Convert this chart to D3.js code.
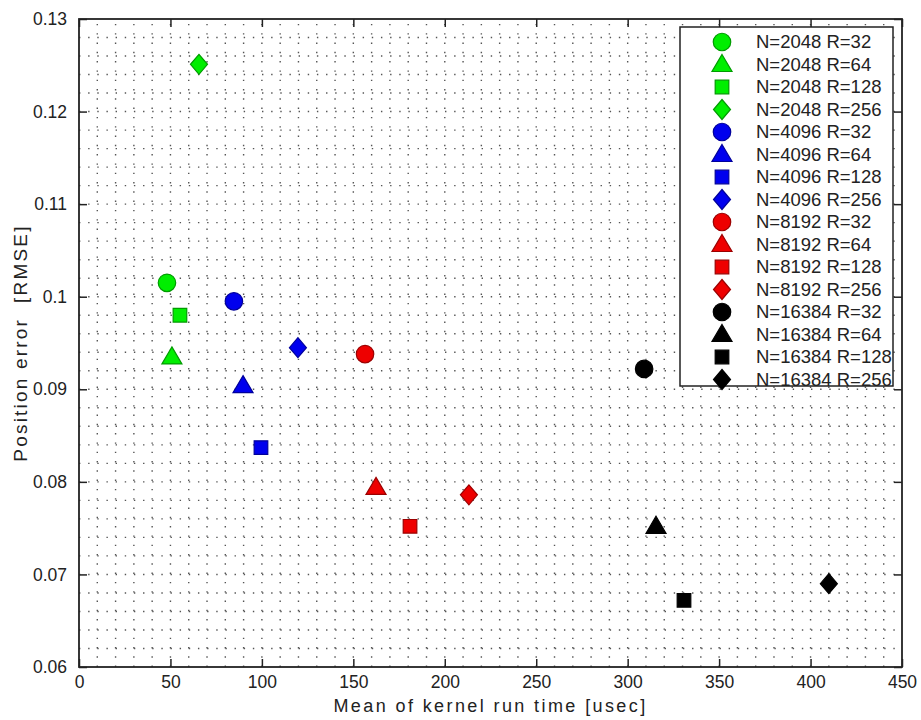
<!DOCTYPE html>
<html>
<head>
<meta charset="utf-8">
<script src="https://cdn.jsdelivr.net/npm/d3@7"></script>
<style>
  body { margin: 0; background: #fff; }
  text { font-family: "Liberation Sans", Arial, sans-serif; fill: #222; }
</style>
</head>
<body>
<div id="chart"></div>
<script>
// series
const labels = [
  'N=2048 R=32', 'N=2048 R=64', 'N=2048 R=128', 'N=2048 R=256',
  'N=4096 R=32', 'N=4096 R=64', 'N=4096 R=128', 'N=4096 R=256',
  'N=8192 R=32', 'N=8192 R=64', 'N=8192 R=128', 'N=8192 R=256',
  'N=16384 R=32', 'N=16384 R=64', 'N=16384 R=128', 'N=16384 R=256'
];
const runTime = [48.1, 50.8, 55.2, 65.6, 84.7, 89.7, 99.5, 119.7,
  156.4, 162.4, 181.0, 213.2, 309.0, 315.5, 330.8, 410.0];
const rmse = [0.1015, 0.0935, 0.0980, 0.1251, 0.0995, 0.0904, 0.0837, 0.0945,
  0.0938, 0.0794, 0.0752, 0.0786, 0.0922, 0.0752, 0.0672, 0.0690];
const colors = ['#00ee00', '#0000ee', '#ee0000', '#000000'];
const shapes = ['circle', 'triangle', 'square', 'diamond'];
const xTicks = [0, 50, 100, 150, 200, 250, 300, 350, 400, 450];
const yTicks = [0.06, 0.07, 0.08, 0.09, 0.1, 0.11, 0.12, 0.13];

const margin = { top: 19, right: 19, bottom: 53, left: 79 },
  width = 921 - margin.left - margin.right,
  height = 720 - margin.top - margin.bottom;

const x = d3.scaleLinear().domain([0, 450]).range([0, width]);
const y = d3.scaleLinear().domain([0.06, 0.13]).range([height, 0]);

const svg = d3.select('#chart').append('svg')
  .attr('width', 921).attr('height', 720);
const g = svg.append('g')
  .attr('transform', 'translate(' + margin.left + ',' + margin.top + ')');

// dotted minor grid every 10 / 0.002
const xMinor = d3.range(10, 450, 10);
const yMinor = d3.range(1, 35).map((i) => 0.06 + i * 0.002);
g.append('g').selectAll('line').data(xMinor).join('line')
  .attr('x1', (d) => x(d)).attr('x2', (d) => x(d))
  .attr('y1', height).attr('y2', 0)
  .attr('stroke', '#555').attr('stroke-width', 1.4)
  .attr('stroke-dasharray', '1.4,7.9');
g.append('g').selectAll('line').data(yMinor).join('line')
  .attr('y1', (d) => y(d)).attr('y2', (d) => y(d))
  .attr('x1', 0).attr('x2', width)
  .attr('stroke', '#555').attr('stroke-width', 1.4)
  .attr('stroke-dasharray', '1.4,7.75');

// axes
const xAxis = d3.axisBottom(x).tickValues(xTicks).tickSizeInner(-8).tickSizeOuter(0).tickPadding(9)
  .tickFormat(d3.format('d'));
const yAxis = d3.axisLeft(y).tickValues(yTicks).tickSizeInner(-8).tickSizeOuter(0).tickPadding(12)
  .tickFormat((d) => String(+d.toFixed(2)));

const gx = g.append('g').attr('transform', 'translate(0,' + height + ')').call(xAxis);
const gy = g.append('g').call(yAxis);
g.append('g').call(d3.axisTop(x).tickValues(xTicks).tickSizeInner(-8).tickSizeOuter(0).tickFormat(''));
g.append('g').attr('transform', 'translate(' + width + ',0)')
  .call(d3.axisRight(y).tickValues(yTicks).tickSizeInner(-8).tickSizeOuter(0).tickFormat(''));
g.selectAll('.domain').remove();
g.selectAll('.tick line').attr('stroke', '#222').attr('stroke-width', 1.5);
gx.selectAll('text').attr('font-size', 17.5);
gy.selectAll('text').attr('font-size', 17.5);

g.append('rect').attr('width', width).attr('height', height)
  .attr('fill', 'none').attr('stroke', '#222').attr('stroke-width', 1.8);

// axis labels
svg.append('text')
  .attr('x', margin.left + width / 2).attr('y', 712)
  .attr('text-anchor', 'middle').attr('font-size', 18)
  .attr('letter-spacing', 2.4)
  .text('Mean of kernel run time [usec]');
svg.append('text')
  .attr('transform', 'translate(27,' + (margin.top + height / 2) + ') rotate(-90)')
  .attr('text-anchor', 'middle').attr('font-size', 19)
  .attr('letter-spacing', 2.2)
  .style('white-space', 'pre')
  .text('Position error  [RMSE]');

function markerPath(shape) {
  if (shape === 'circle') return d3.symbol(d3.symbolCircle, 240)();
  if (shape === 'square') return d3.symbol(d3.symbolSquare, 185)();
  if (shape === 'triangle') return 'M0,-10L10,7L-10,7Z';
  return 'M0,-10L8.5,0L0,10L-8.5,0Z';
}

const points = runTime.map((d, i) => ({
  x: d, y: rmse[i], color: colors[Math.floor(i / 4)], shape: shapes[i % 4]
}));

g.append('g').selectAll('path').data(points).join('path')
  .attr('transform', (d) => 'translate(' + x(d.x) + ',' + y(d.y) + ')')
  .attr('d', (d) => markerPath(d.shape))
  .attr('fill', (d) => d.color)
  .attr('stroke', (d) => d3.color(d.color).darker(1.2))
  .attr('stroke-width', 1.2);

// legend
const legend = svg.append('g').attr('transform', 'translate(680,27)');
legend.append('rect').attr('width', 213).attr('height', 359)
  .attr('fill', '#fff').attr('stroke', '#222').attr('stroke-width', 1.5);
const items = legend.selectAll('g.item').data(labels).join('g')
  .attr('class', 'item')
  .attr('transform', (d, i) => 'translate(42,' + (15 + i * 22.5) + ')');
items.append('path')
  .attr('d', (d, i) => markerPath(shapes[i % 4]))
  .attr('fill', (d, i) => colors[Math.floor(i / 4)])
  .attr('stroke', (d, i) => d3.color(colors[Math.floor(i / 4)]).darker(1.2))
  .attr('stroke-width', 1.2);
items.append('text')
  .attr('x', 34).attr('dy', '0.35em')
  .attr('font-size', 18.5)
  .text((d) => d);
</script>
</body>
</html>
